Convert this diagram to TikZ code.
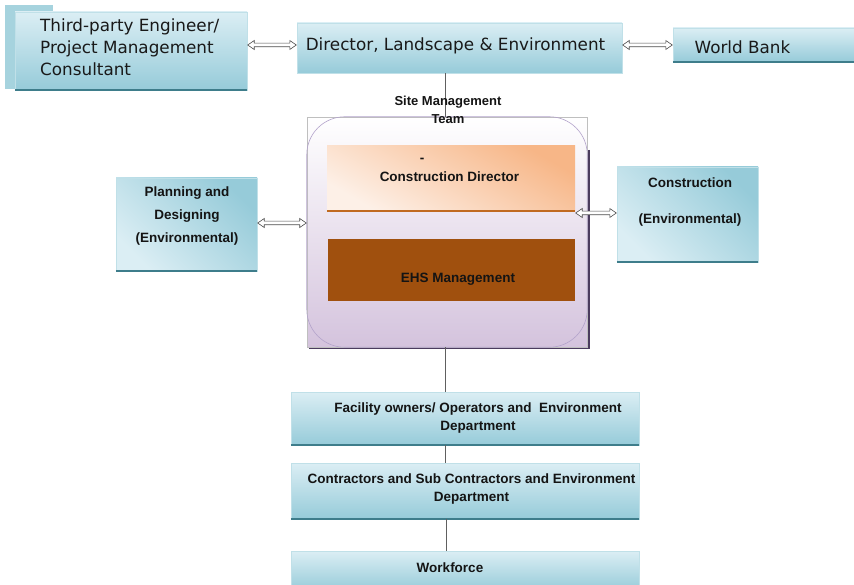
\documentclass[tikz,border=0pt]{standalone}
\usepackage{fontspec}
\setmainfont{Liberation Sans}
\newfontfamily\verd{DejaVu Sans}
\usetikzlibrary{calc}
\definecolor{bA}{HTML}{DBEEF4}
\definecolor{bB}{HTML}{96CBD9}
\definecolor{bBack}{HTML}{A6D3DE}
\definecolor{bEdge}{HTML}{3E7D8B}
\definecolor{pA}{HTML}{FFFFFF}
\definecolor{pB}{HTML}{D4C3DD}
\definecolor{pLine}{HTML}{B3A3CB}
\definecolor{pDark}{HTML}{4B3C5E}
\definecolor{oA}{HTML}{F7B687}
\definecolor{oB}{HTML}{FDF0E7}
\definecolor{oEdge}{HTML}{C06A20}
\definecolor{ehs}{HTML}{A0500E}
\tikzset{
  bluebox/.style={draw=bB!60, line width=0.4pt, top color=bA, bottom color=bB, inner sep=0pt},
  edge/.style={draw=bEdge, line width=2.4pt},
  conn/.style={draw=gray!75!black, line width=0.8pt},
  dblarrow/.style={draw=gray!60!black, fill=white, line width=0.6pt, line join=miter,
    to path={($(\tikztostart)+(0.5pt,0pt)$) -- ($(\tikztostart)+(7pt,4.5pt)$) -- ($(\tikztostart)+(7pt,1.8pt)$)
      -- ($(\tikztotarget)+(-7pt,1.8pt)$) -- ($(\tikztotarget)+(-7pt,4.5pt)$) -- ($(\tikztotarget)+(-0.5pt,0pt)$)
      -- ($(\tikztotarget)+(-7pt,-4.5pt)$) -- ($(\tikztotarget)+(-7pt,-1.8pt)$)
      -- ($(\tikztostart)+(7pt,-1.8pt)$) -- ($(\tikztostart)+(7pt,-4.5pt)$) -- cycle}},
  toplbl/.style={font=\verd\fontsize{16.8}{22}\selectfont, inner sep=0pt, text=black!90},
  lbl/.style={font=\bfseries\fontsize{13.5}{18}\selectfont, inner sep=0pt, align=center, text=black!92}
}
\begin{document}
\begin{tikzpicture}[x=1pt,y=-1pt]
\useasboundingbox (0,0) rectangle (854,585);
% Third-party engineer
\fill[bBack] (5,5) rectangle (53,89);
\node[bluebox, minimum width=232pt, minimum height=78pt] (tp) at (131,51) {};
\draw[edge] (tp.south west) -- (tp.south east);
\node[toplbl, anchor=west, align=left] (ttp) at (40,47) {Third-party Engineer/\\Project Management\\Consultant};
% Director
\node[bluebox, minimum width=325pt, minimum height=50pt] (dir) at (459.5,48) {};
\node[toplbl] (tdir) at (455.5,46) {Director, Landscape \& Environment};
% World Bank
\node[bluebox, minimum width=187pt, minimum height=34pt] (wb) at (766.5,45) {};
\draw[edge] (wb.south west) -- (wb.south east);
\node[toplbl] (twb) at (742.5,47) {World Bank};
% arrows top
\draw[dblarrow] ([yshift=6pt]tp.east) to ([yshift=3pt]dir.west);
\draw[dblarrow] ([yshift=3pt]dir.east) to (wb.west);
% big site management box
\coordinate (cx) at (445,0);
\draw[pDark, line width=2.4pt] (589,150) -- (589,348) -- (309,348);
\node[draw=gray!50, line width=0.5pt, top color=pA, bottom color=pB, minimum width=280pt, minimum height=230pt, inner sep=0pt] (big) at (447,232) {};
\draw[pLine, line width=0.6pt, rounded corners=38pt] (big.south west) rectangle (big.north east);
\draw[conn] (dir.south -| cx) -- (big.north -| cx);
\node[lbl, font=\bfseries\fontsize{13}{18}\selectfont] (tstm) at (448,110) {Site Management\\Team};
% construction director
\node[inner sep=0pt, minimum width=248pt, minimum height=65pt, top color=oA, bottom color=oB, shading angle=-30] (cd) at (451,178.5) {};
\draw[oEdge, line width=2pt] (cd.south west) -- (cd.south east);
\node[lbl] (tdash) at (422,160) {-};
\node[lbl] (tcd) at (449.5,177) {Construction Director};
% EHS
\node[fill=ehs, inner sep=0pt, minimum width=247pt, minimum height=62pt] (ehsn) at (451.5,270) {};
\node[lbl] (tehs) at (458,279) {EHS Management};
% planning
\node[bluebox, minimum width=141pt, minimum height=93pt, shading angle=135] (pl) at (186.5,224.5) {};
\draw[edge] (pl.south west) -- (pl.south east);
\node[lbl, font=\bfseries\fontsize{13.5}{23}\selectfont] (tpl) at (187,216) {Planning and\\Designing\\(Environmental)};
% construction env
\node[bluebox, minimum width=141pt, minimum height=95pt, shading angle=135] (ce) at (687.5,214.5) {};
\draw[edge] (ce.south west) -- (ce.south east);
\node[lbl, font=\bfseries\fontsize{13.5}{36}\selectfont] (tce) at (690,202) {Construction\\(Environmental)};
% side arrows
\draw[dblarrow] (pl.east |- 0,223) to (big.west |- 0,223);
\draw[dblarrow] (cd.south east |- 0,213) to (ce.west |- 0,213);
% lower chain
\node[bluebox, minimum width=348pt, minimum height=53pt] (fac) at (465,418.5) {};
\draw[edge] (fac.south west) -- (fac.south east);
\node[lbl] (tfac) at (478,418) {Facility owners/ Operators and \ Environment\\Department};
\node[bluebox, minimum width=348pt, minimum height=56pt] (con) at (465,491) {};
\draw[edge] (con.south west) -- (con.south east);
\node[lbl] (tcon) at (471.5,489) {Contractors and Sub Contractors and Environment\\Department};
\node[bluebox, minimum width=348pt, minimum height=40pt] (wf) at (465,571) {};
\node[lbl] (twf) at (450,568) {Workforce};
\draw[conn] (big.south -| cx) -- (fac.north -| cx);
\draw[conn] (fac.south -| cx) -- (con.north -| cx);
\draw[conn] ([xshift=1pt]con.south -| cx) -- ([xshift=1pt]wf.north -| cx);
\end{tikzpicture}
\end{document}
